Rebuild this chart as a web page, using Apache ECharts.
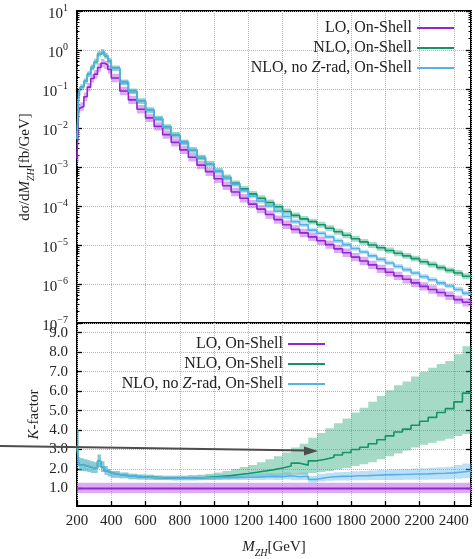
<!DOCTYPE html>
<html><head><meta charset="utf-8">
<script src="https://cdn.jsdelivr.net/npm/echarts@6/dist/echarts.min.js"></script>
<style>html,body{margin:0;padding:0;background:#fff}#c{width:475px;height:559px}</style>
</head><body><div id="c"></div>
<script>
// ---- data ----
const binEdges = [200,210,220,240,260,280,300,320,340,360,380,400,450,500,550,600,650,700,750,800,850,900,950,1000,1050,1100,1150,1200,1250,1300,1350,1400,1450,1500,1550,1600,1650,1700,1750,1800,1850,1900,1950,2000,2050,2100,2150,2200,2250,2300,2350,2400,2450,2500];
const seriesNames = ['LO, On-Shell', 'NLO, On-Shell', 'NLO, no Z-rad, On-Shell'];
const loXsec = [1.66e-3,3.16e-2,3.55e-2,6.31e-2,0.112,0.186,0.240,0.355,0.457,0.417,0.316,0.191,8.91e-2,5.25e-2,3.02e-2,1.82e-2,1.10e-2,6.76e-3,4.27e-3,2.75e-3,1.78e-3,1.12e-3,7.59e-4,5.01e-4,3.31e-4,2.29e-4,1.58e-4,1.12e-4,8.32e-5,6.03e-5,4.47e-5,3.31e-5,2.51e-5,2.04e-5,1.62e-5,1.29e-5,1.02e-5,7.94e-6,6.31e-6,4.90e-6,3.89e-6,3.09e-6,2.45e-6,2.00e-6,1.62e-6,1.32e-6,1.07e-6,8.71e-7,7.24e-7,6.03e-7,5.01e-7,3.98e-7,3.39e-7];
const nloXsec = [5.25e-3,7.94e-2,0.112,0.158,0.240,0.355,0.501,0.794,0.891,0.708,0.525,0.339,0.148,8.71e-2,4.90e-2,2.88e-2,1.74e-2,1.05e-2,6.61e-3,4.27e-3,2.75e-3,1.74e-3,1.20e-3,7.94e-4,5.37e-4,3.80e-4,2.75e-4,2.04e-4,1.58e-4,1.23e-4,9.55e-5,7.24e-5,5.75e-5,4.68e-5,3.98e-5,3.31e-5,2.69e-5,2.19e-5,1.78e-5,1.45e-5,1.20e-5,1.00e-5,8.51e-6,7.24e-6,6.17e-6,5.25e-6,4.47e-6,3.72e-6,3.16e-6,2.63e-6,2.24e-6,1.91e-6,1.58e-6];
const noZXsec = [5.25e-3,7.94e-2,0.112,0.158,0.240,0.355,0.501,0.794,0.891,0.708,0.525,0.339,0.148,8.71e-2,4.90e-2,2.88e-2,1.74e-2,1.05e-2,6.61e-3,4.27e-3,2.75e-3,1.74e-3,1.20e-3,7.94e-4,5.25e-4,3.63e-4,2.51e-4,1.78e-4,1.32e-4,1.00e-4,7.41e-5,5.37e-5,3.98e-5,3.31e-5,2.40e-5,2.00e-5,1.62e-5,1.29e-5,1.02e-5,8.13e-6,6.61e-6,5.25e-6,4.27e-6,3.47e-6,2.82e-6,2.34e-6,1.91e-6,1.55e-6,1.29e-6,1.07e-6,8.91e-7,7.24e-7,5.75e-7];
// relative scale-uncertainty factors (low, high) of the top-panel bands
const loBandFactor = [0.78, 1.28];
const nloBandFactor = [0.84, 1.19];
const noZBandFactor = [0.87, 1.15];
// K-factor panel
const loK = [1,1,1,1,1,1,1,1,1,1,1,1,1,1,1,1,1,1,1,1,1,1,1,1,1,1,1,1,1,1,1,1,1,1,1,1,1,1,1,1,1,1,1,1,1,1,1,1,1,1,1,1,1];
const loKLow = [0.77,0.77,0.77,0.77,0.77,0.77,0.77,0.77,0.77,0.77,0.77,0.77,0.77,0.77,0.77,0.77,0.77,0.77,0.77,0.77,0.77,0.77,0.77,0.77,0.77,0.77,0.77,0.77,0.77,0.77,0.77,0.77,0.77,0.77,0.77,0.77,0.77,0.77,0.77,0.77,0.77,0.77,0.77,0.77,0.77,0.77,0.77,0.77,0.77,0.77,0.77,0.77,0.77];
const loKHigh = [1.3,1.3,1.3,1.3,1.3,1.3,1.3,1.3,1.3,1.3,1.3,1.3,1.3,1.3,1.3,1.3,1.3,1.3,1.3,1.3,1.3,1.3,1.3,1.3,1.3,1.3,1.3,1.3,1.3,1.3,1.3,1.3,1.3,1.3,1.3,1.3,1.3,1.3,1.3,1.3,1.3,1.3,1.3,1.3,1.3,1.3,1.3,1.3,1.3,1.3,1.3,1.3,1.3];
const nloK = [3.2,2.2,2.2,2.15,2.1,2.05,2.05,2.4,2.1,1.9,1.8,1.72,1.66,1.62,1.59,1.57,1.55,1.54,1.53,1.53,1.54,1.56,1.59,1.62,1.66,1.72,1.77,1.83,1.9,1.97,2.05,2.15,2.3,2.2,2.42,2.5,2.6,2.72,2.85,3.0,3.12,3.3,3.5,3.7,3.9,4.05,4.25,4.45,4.65,4.9,5.1,5.45,5.9];
const nloKLow = [2.7,1.9,1.9,1.88,1.85,1.8,1.8,2.1,1.85,1.7,1.62,1.55,1.52,1.48,1.46,1.45,1.44,1.43,1.42,1.42,1.42,1.43,1.44,1.45,1.47,1.5,1.52,1.55,1.57,1.6,1.63,1.67,1.72,1.72,1.8,1.85,1.9,1.97,2.05,2.15,2.25,2.35,2.5,2.65,2.8,2.95,3.1,3.25,3.35,3.45,3.55,3.7,3.8];
const nloKHigh = [4.0,2.6,2.55,2.5,2.45,2.4,2.35,2.75,2.4,2.15,2.0,1.9,1.82,1.76,1.72,1.7,1.67,1.66,1.65,1.66,1.68,1.71,1.76,1.82,1.9,2.0,2.1,2.2,2.35,2.5,2.65,2.85,3.1,3.3,3.6,3.85,4.1,4.35,4.6,4.9,5.15,5.45,5.75,6.05,6.3,6.5,6.75,7.0,7.2,7.4,7.55,7.9,8.3];
const noZK = [3.2,2.2,2.2,2.15,2.1,2.05,2.05,2.4,2.1,1.9,1.8,1.72,1.66,1.62,1.59,1.57,1.55,1.54,1.53,1.53,1.54,1.55,1.56,1.58,1.57,1.57,1.58,1.58,1.6,1.62,1.6,1.65,1.6,1.63,1.47,1.55,1.6,1.62,1.63,1.65,1.66,1.68,1.7,1.71,1.72,1.73,1.74,1.75,1.77,1.78,1.8,1.85,1.9];
const noZKLow = [2.7,1.9,1.9,1.88,1.85,1.8,1.8,2.1,1.85,1.7,1.62,1.55,1.52,1.48,1.46,1.45,1.44,1.43,1.42,1.42,1.42,1.42,1.43,1.44,1.44,1.43,1.43,1.43,1.44,1.45,1.43,1.46,1.42,1.44,1.30,1.36,1.4,1.41,1.41,1.42,1.42,1.43,1.44,1.44,1.44,1.45,1.45,1.45,1.46,1.46,1.47,1.5,1.52];
const noZKHigh = [4.0,2.6,2.55,2.5,2.45,2.4,2.35,2.75,2.4,2.15,2.0,1.9,1.82,1.76,1.72,1.7,1.67,1.66,1.65,1.66,1.68,1.68,1.71,1.74,1.72,1.72,1.74,1.74,1.77,1.8,1.78,1.84,1.78,1.82,1.65,1.74,1.8,1.83,1.85,1.88,1.9,1.92,1.95,1.97,1.99,2.0,2.02,2.04,2.07,2.09,2.12,2.2,2.28];
const xTicks = {min: 200, max: 2500, interval: 200};
const kTickValues = [1,2,3,4,5,6,7,8,9];

// ---- style ----
const FONT = '"Liberation Serif", "DejaVu Serif", serif';
const COL = {lo: '#9425d2', nlo: '#13946a', noZ: '#55b2e6'};
const BAND = {lo: 'rgba(184,90,230,0.5)', nlo: 'rgba(40,168,122,0.42)', noZ: 'rgba(96,184,236,0.42)'};
const TXT = '#222';

function step(vals) {
  const d = vals.map((v, i) => [binEdges[i], v]);
  d.push([binEdges[binEdges.length - 1], vals[vals.length - 1]]);
  return d;
}
// uncertainty band: one step-shaped polygon built through the axis scales
function band(id, low, high, color, xi, yi) {
  const data = low.map((l, i) => [binEdges[i], binEdges[i + 1], l, high[i]]);
  return {
    type: 'custom', name: '_' + id, xAxisIndex: xi, yAxisIndex: yi, data: data, clip: true, silent: true, z: 1,
    encode: {x: [0, 1], y: [2, 3]},
    renderItem: function (params, api) {
      if (params.dataIndex !== 0) return null;
      const top = [], bot = [];
      data.forEach(d => {
        top.push(api.coord([d[0], d[3]]), api.coord([d[1], d[3]]));
        bot.push(api.coord([d[0], d[2]]), api.coord([d[1], d[2]]));
      });
      return {type: 'polygon', shape: {points: top.concat(bot.reverse())}, style: {fill: color}};
    }
  };
}
function line(name, vals, color, xi, yi, w) {
  return {type: 'line', name: name, xAxisIndex: xi, yAxisIndex: yi, data: step(vals), step: 'end', symbol: 'none',
    lineStyle: {color: color, width: w || 1.6}, itemStyle: {color: color}, z: 3};
}
const scale = (arr, f) => arr.map(v => v * f);

const minorLog = [];
for (let e = -7; e <= 0; e++) for (let m = 2; m <= 9; m++) minorLog.push(m * Math.pow(10, e));

const sup = {
  b: {fontFamily: FONT, fontSize: 15, color: TXT, lineHeight: 15, padding: [3, 0, 0, 0], verticalAlign: 'top'},
  s: {fontFamily: FONT, fontSize: 10, color: TXT, lineHeight: 10, verticalAlign: 'top'}
};
const sub = {
  r: {fontFamily: FONT, fontSize: 15, color: TXT, lineHeight: 16, verticalAlign: 'top'},
  it: {fontFamily: FONT, fontSize: 15, color: TXT, fontStyle: 'italic', lineHeight: 16, verticalAlign: 'top'},
  sub: {fontFamily: FONT, fontSize: 10, color: TXT, fontStyle: 'italic', lineHeight: 10, padding: [8, 0, 0, 0], verticalAlign: 'top'}
};
const grid = {type: 'dotted', color: '#b5b5b5', width: 1};

const legendBase = {
  orient: 'vertical', align: 'right', icon: 'rect', itemWidth: 37, itemHeight: 2, itemGap: 4,
  selectedMode: false,
  formatter: n => n.replace(' Z-', ' {i|Z}-'),
  textStyle: {fontFamily: FONT, fontSize: 16, color: TXT, lineHeight: 15,
    rich: {i: {fontFamily: FONT, fontSize: 16, fontStyle: 'italic', color: TXT}}},
  data: seriesNames.map((n, i) => ({name: n, itemStyle: {color: [COL.lo, COL.nlo, COL.noZ][i]}}))
};

const option = {
  animation: false,
  backgroundColor: '#fff',
  grid: [
    {left: 77, right: 4, top: 11, height: 312, show: true, borderColor: '#000', borderWidth: 2, backgroundColor: 'transparent'},
    {left: 77, right: 4, top: 323, height: 193, show: true, borderColor: '#000', borderWidth: 2, backgroundColor: 'transparent'}
  ],
  legend: [
    Object.assign({}, legendBase, {right: 16, top: 15}),
    Object.assign({}, legendBase, {right: 145, top: 331})
  ],
  xAxis: [
    {type: 'value', gridIndex: 0, min: xTicks.min, max: xTicks.max, interval: xTicks.interval,
     axisLabel: {show: false}, axisTick: {show: false}, axisLine: {show: false}, splitLine: {show: true, lineStyle: grid}},
    {type: 'value', gridIndex: 1, min: xTicks.min, max: xTicks.max, interval: xTicks.interval,
     axisLine: {show: false}, axisTick: {show: true, inside: true, length: 5, lineStyle: {color: '#000', width: 1.3}},
     axisLabel: {fontFamily: FONT, fontSize: 15, color: TXT, margin: 8, formatter: v => String(v)},
     splitLine: {show: true, lineStyle: grid},
     name: '{it|M}{sub|ZH}{r|[GeV]}', nameLocation: 'middle', nameGap: 34, nameMoveOverlap: false,
     nameTextStyle: {rich: sub}}
  ],
  yAxis: [
    {type: 'log', gridIndex: 0, logBase: 10, min: 1e-7, max: 10, interval: 1,
     axisLine: {show: false}, axisTick: {show: true, inside: true, length: 5, lineStyle: {color: '#000', width: 1.3}},
     axisLabel: {margin: 9, formatter: v => '{b|10}{s|' + String(Math.round(Math.log10(v))).replace('-', '\u2212') + '}', rich: sup},
     splitLine: {show: true, lineStyle: grid},
     name: '{r|d\u03c3/d}{it|M}{sub|ZH}{r|[fb/GeV]}', nameLocation: 'middle', nameGap: 43, nameMoveOverlap: false,
     nameTextStyle: {rich: sub}},
    {type: 'log', gridIndex: 0, logBase: 10, min: 1e-7, max: 10, interval: 1, position: 'right',
     axisLine: {show: false}, axisTick: {show: true, inside: true, length: 5, lineStyle: {color: '#000', width: 1.3}},
     axisLabel: {show: false}, splitLine: {show: false}},
    {type: 'log', gridIndex: 0, logBase: 10, min: 1e-7, max: 10, position: 'left',
     axisLine: {show: false}, axisTick: {show: true, inside: true, length: 2.5, customValues: minorLog, lineStyle: {color: '#000', width: 1}},
     axisLabel: {show: false}, splitLine: {show: false}},
    {type: 'log', gridIndex: 0, logBase: 10, min: 1e-7, max: 10, position: 'right',
     axisLine: {show: false}, axisTick: {show: true, inside: true, length: 2.5, customValues: minorLog, lineStyle: {color: '#000', width: 1}},
     axisLabel: {show: false}, splitLine: {show: false}},
    {type: 'value', gridIndex: 1, min: 0.1, max: 9.5,
     axisLine: {show: false}, axisTick: {show: true, inside: true, length: 5, customValues: kTickValues, lineStyle: {color: '#000', width: 1.3}},
     axisLabel: {customValues: kTickValues, formatter: v => v.toFixed(1), fontFamily: FONT, fontSize: 15, color: TXT, margin: 9},
     splitLine: {show: true, lineStyle: grid},
     name: '{it|K}{r|-factor}', nameLocation: 'middle', nameGap: 34, nameMoveOverlap: false, nameTextStyle: {rich: sub}},
    {type: 'value', gridIndex: 1, min: 0.1, max: 9.5, position: 'right',
     axisLine: {show: false}, axisTick: {show: true, inside: true, length: 5, customValues: kTickValues, lineStyle: {color: '#000', width: 1.3}},
     axisLabel: {show: false}, splitLine: {show: false}}
  ],
  series: [
    band('tlo', scale(loXsec, loBandFactor[0]), scale(loXsec, loBandFactor[1]), BAND.lo, 0, 0),
    band('tnlo', scale(nloXsec, nloBandFactor[0]), scale(nloXsec, nloBandFactor[1]), BAND.nlo, 0, 0),
    band('tnoz', scale(noZXsec, noZBandFactor[0]), scale(noZXsec, noZBandFactor[1]), BAND.noZ, 0, 0),
    line(seriesNames[0], loXsec, COL.lo, 0, 0), line(seriesNames[1], nloXsec, COL.nlo, 0, 0), line(seriesNames[2], noZXsec, COL.noZ, 0, 0),
    band('klo', loKLow, loKHigh, BAND.lo, 1, 4),
    band('knlo', nloKLow, nloKHigh, BAND.nlo, 1, 4),
    band('knoz', noZKLow, noZKHigh, BAND.noZ, 1, 4),
    line(seriesNames[0], loK, COL.lo, 1, 4, 2), line(seriesNames[1], nloK, COL.nlo, 1, 4), line(seriesNames[2], noZK, COL.noZ, 1, 4)
  ],
  graphic: [
    {type: 'line', z: 100, shape: {x1: 0, y1: 446, x2: 306, y2: 450.6}, style: {stroke: '#4d4d4d', lineWidth: 2}},
    {type: 'polygon', z: 100, shape: {points: [[318, 451], [304, 446.4], [304, 455.4]]}, style: {fill: '#4d4d4d'}}
  ]
};
const chart = echarts.init(document.getElementById('c'), null, {renderer: 'canvas'});
chart.setOption(option);
</script>
</body></html>
